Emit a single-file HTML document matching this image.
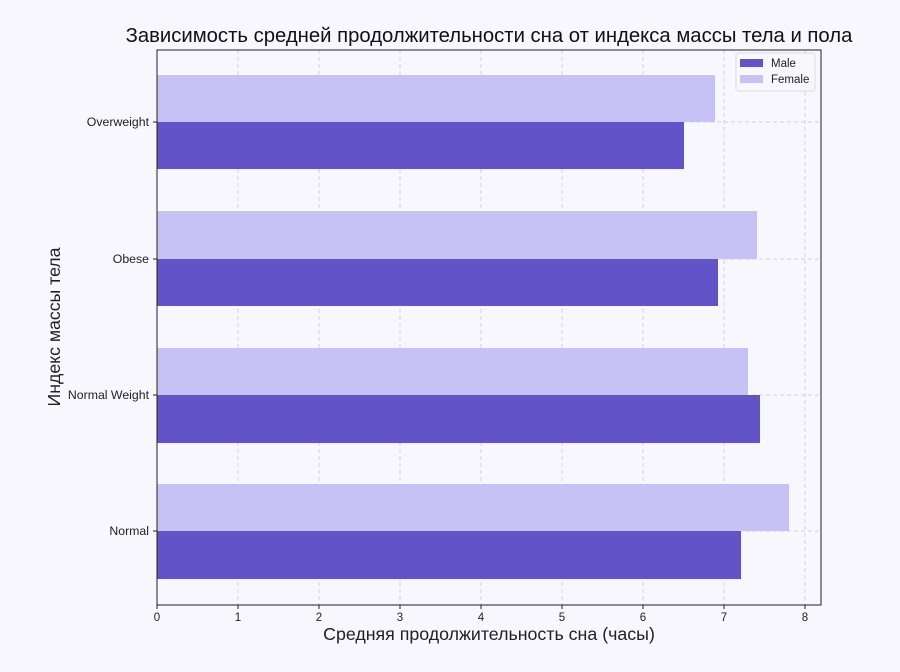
<!DOCTYPE html>
<html><head><meta charset="utf-8"><style>html,body{margin:0;background:#f7f7fd;overflow:hidden;width:900px;height:672px}svg{display:block}</style></head><body>
<svg width="900" height="672" xmlns="http://www.w3.org/2000/svg" font-family="Liberation Sans, DejaVu Sans, sans-serif">
<rect width="900" height="672" fill="#f7f7fd"/>
<rect x="157" y="50" width="664" height="555" fill="#f7f7fd"/>
<g stroke="#cccccc" stroke-dasharray="4,3" stroke-width="0.8">
<line x1="238" y1="50" x2="238" y2="605"/><line x1="319" y1="50" x2="319" y2="605"/><line x1="400" y1="50" x2="400" y2="605"/><line x1="481" y1="50" x2="481" y2="605"/><line x1="562" y1="50" x2="562" y2="605"/><line x1="643" y1="50" x2="643" y2="605"/><line x1="724" y1="50" x2="724" y2="605"/><line x1="805" y1="50" x2="805" y2="605"/>
<line x1="157" y1="122" x2="821" y2="122"/><line x1="157" y1="259" x2="821" y2="259"/><line x1="157" y1="395" x2="821" y2="395"/><line x1="157" y1="531" x2="821" y2="531"/>
</g>
<g fill="#c6c2f6">
<rect x="157" y="75" width="558" height="47"/>
<rect x="157" y="211" width="600" height="48"/>
<rect x="157" y="348" width="591" height="47"/>
<rect x="157" y="484" width="632" height="47"/>
</g>
<g fill="#6353c9">
<rect x="157" y="122" width="527" height="47"/>
<rect x="157" y="259" width="561" height="47"/>
<rect x="157" y="395" width="603" height="48"/>
<rect x="157" y="531" width="584" height="48"/>
</g>
<rect x="157" y="50" width="664" height="555" fill="none" stroke="#222" stroke-width="1"/>
<g font-size="11.5" fill="#222" text-anchor="middle">
<text x="157" y="621">0</text><text x="238" y="621">1</text><text x="319" y="621">2</text><text x="400" y="621">3</text><text x="481" y="621">4</text><text x="562" y="621">5</text><text x="643" y="621">6</text><text x="724" y="621">7</text><text x="805" y="621">8</text>
</g>
<g stroke="#222"><line x1="157" y1="605" x2="157" y2="609"/><line x1="238" y1="605" x2="238" y2="609"/><line x1="319" y1="605" x2="319" y2="609"/><line x1="400" y1="605" x2="400" y2="609"/><line x1="481" y1="605" x2="481" y2="609"/><line x1="562" y1="605" x2="562" y2="609"/><line x1="643" y1="605" x2="643" y2="609"/><line x1="724" y1="605" x2="724" y2="609"/><line x1="805" y1="605" x2="805" y2="609"/>
<line x1="153" y1="122" x2="157" y2="122"/><line x1="153" y1="259" x2="157" y2="259"/><line x1="153" y1="395" x2="157" y2="395"/><line x1="153" y1="531" x2="157" y2="531"/></g>
<g font-size="12.3" fill="#222" text-anchor="end">
<text x="149" y="126">Overweight</text><text x="149" y="263">Obese</text><text x="149" y="399">Normal Weight</text><text x="149" y="535">Normal</text>
</g>
<text x="489" y="640" font-size="17.8" text-anchor="middle" fill="#222">Средняя продолжительность сна (часы)</text>
<text transform="translate(60,327) rotate(-90)" font-size="17.7" text-anchor="middle" fill="#222">Индекс массы тела</text>
<text x="489" y="42" font-size="20.3" text-anchor="middle" fill="#111">Зависимость средней продолжительности сна от индекса массы тела и пола</text>
<rect x="736" y="53" width="79" height="38" fill="#f7f7fd" stroke="#ddd" rx="2"/>
<rect x="740" y="59" width="23" height="8" fill="#6353c9"/>
<rect x="740" y="75" width="23" height="8" fill="#c6c2f6"/>
<text x="771" y="67" font-size="11.5" fill="#222">Male</text>
<text x="771" y="83" font-size="11.5" fill="#222">Female</text>
</svg>
</body></html>
